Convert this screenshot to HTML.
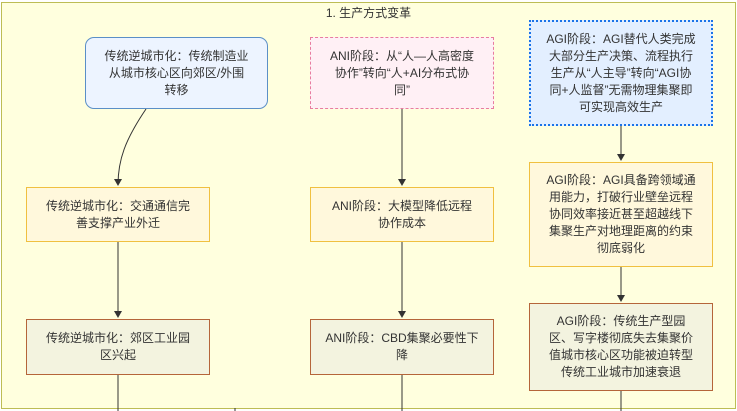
<!DOCTYPE html>
<html><head><meta charset="utf-8"><style>
body{margin:0;width:737px;height:411px;overflow:hidden;background:#fff;font-family:"Liberation Sans","Noto Sans CJK SC",sans-serif;}
.sg{position:absolute;left:1px;top:2px;width:733px;height:405px;background:#ffffde;border:1px solid #bdbd55;}
.t{position:absolute;left:0;width:737px;top:4px;text-align:center;font-size:12px;color:#333;}
.n{position:absolute;box-sizing:border-box;display:flex;align-items:center;justify-content:center;text-align:center;font-size:12px;line-height:17px;color:#333;padding:0 4px;white-space:nowrap;}
.y{background:#fff8dc;border:1.5px solid #f0c040;}
.b{background:#f3f3df;border:1.5px solid #b5653a;}
</style></head><body>
<div class="sg"></div>
<div class="t">1. 生产方式变革</div>
<svg style="position:absolute;left:0;top:0" width="737" height="411">
<defs><marker id="a" markerWidth="8" markerHeight="8" refX="6" refY="4" orient="auto"><path d="M0,0L7,4L0,8z" fill="#333"/></marker></defs>
<g stroke="#333" stroke-width="1" fill="none">
<path d="M146,109 C125,140 118,160 118,185" marker-end="url(#a)"/>
<path d="M118,242 V317" marker-end="url(#a)"/>
<path d="M118,375 V411"/>
<path d="M402,109 V185" marker-end="url(#a)"/>
<path d="M402,242 V317" marker-end="url(#a)"/>
<path d="M402,375 V411"/>
<path d="M621,126 V160" marker-end="url(#a)"/>
<path d="M621,267 V301" marker-end="url(#a)"/>
<path d="M621,391 V411"/>
<path d="M235,408 V411"/>
</g></svg>
<div class="n" style="left:85px;top:37px;width:183px;height:72px;background:#edf4ff;border:1.5px solid #5b8fc7;border-radius:9px;">传统逆城市化：传统制造业<br>从城市核心区向郊区/外围<br>转移</div>
<div class="n" style="left:310px;top:37px;width:184px;height:72px;background:#fff0f5;border:1.5px dashed #e87ca0;">ANI阶段：从“人—人高密度<br>协作”转向“人+AI分布式协<br>同”</div>
<div class="n" style="left:529px;top:20px;width:184px;height:106px;background:#e3efff;border:2px dotted #1a73e8;">AGI阶段：AGI替代人类完成<br>大部分生产决策、流程执行<br>生产从“人主导”转向“AGI协<br>同+人监督”无需物理集聚即<br>可实现高效生产</div>
<div class="n y" style="left:26px;top:187px;width:184px;height:55px;">传统逆城市化：交通通信完<br>善支撑产业外迁</div>
<div class="n y" style="left:310px;top:187px;width:184px;height:55px;">ANI阶段：大模型降低远程<br>协作成本</div>
<div class="n y" style="left:529px;top:162px;width:184px;height:105px;">AGI阶段：AGI具备跨领域通<br>用能力，打破行业壁垒远程<br>协同效率接近甚至超越线下<br>集聚生产对地理距离的约束<br>彻底弱化</div>
<div class="n b" style="left:26px;top:319px;width:184px;height:56px;">传统逆城市化：郊区工业园<br>区兴起</div>
<div class="n b" style="left:310px;top:319px;width:184px;height:56px;">ANI阶段：CBD集聚必要性下<br>降</div>
<div class="n b" style="left:529px;top:303px;width:184px;height:88px;">AGI阶段：传统生产型园<br>区、写字楼彻底失去集聚价<br>值城市核心区功能被迫转型<br>传统工业城市加速衰退</div>
</body></html>
